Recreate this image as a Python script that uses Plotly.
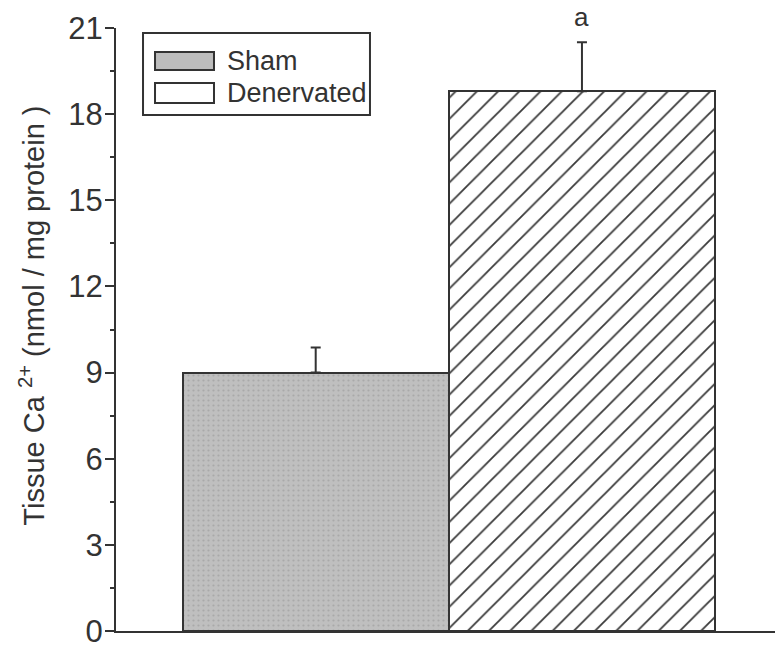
import plotly.graph_objects as go

# Tissue calcium content, mean with upper error (SEM)
groups = ["Sham", "Denervated"]
calcium = [9.0, 18.8]
calcium_err = [0.87, 1.7]
significance = ["", "a"]
y_ticks = [0, 3, 6, 9, 12, 15, 18, 21]

INK = "#333333"
FONT = "Liberation Sans, Arial, sans-serif"

fig = go.Figure()

fig.add_trace(go.Bar(
    x=[groups[0]], y=[calcium[0]], width=1,
    marker=dict(
        color="#bdbdbd",
        line=dict(color=INK, width=2),
        pattern=dict(shape=".", size=5, solidity=0.15,
                     fgcolor="#a9a9a9", bgcolor="#bfbfbf", fillmode="replace"),
    ),
    error_y=dict(type="data", symmetric=False, array=[calcium_err[0]], arrayminus=[0],
                 color=INK, thickness=2, width=5),
    showlegend=False,
))

fig.add_trace(go.Bar(
    x=[groups[1]], y=[calcium[1]], width=1,
    marker=dict(
        color="white",
        line=dict(color=INK, width=2),
        pattern=dict(shape="/", size=15, solidity=0.12,
                     fgcolor="#3a3a3a", bgcolor="white", fillmode="replace"),
    ),
    error_y=dict(type="data", symmetric=False, array=[calcium_err[1]], arrayminus=[0],
                 color=INK, thickness=2, width=5),
    showlegend=False,
))

# significance letters above the error bars
for g, v, e, s in zip(groups, calcium, calcium_err, significance):
    if s:
        fig.add_annotation(x=g, y=v + e, text=s, showarrow=False, yanchor="bottom",
                           yshift=8, font=dict(size=26, color=INK, family=FONT))

# boxed legend with wide swatches
fig.add_shape(type="rect", xref="paper", yref="paper", x0=0.041, x1=0.3854,
              y0=0.8557, y1=0.9917, line=dict(color=INK, width=2), fillcolor="white")
swatches = [("#bdbdbd", 0.9303, 0.9602), ("white", 0.8756, 0.9088)]
for (fill, y0, y1), name in zip(swatches, groups):
    fig.add_shape(type="rect", xref="paper", yref="paper", x0=0.0592, x1=0.1487,
                  y0=y0, y1=y1, line=dict(color=INK, width=2), fillcolor=fill)
    fig.add_annotation(xref="paper", yref="paper", x=0.166, y=(y0 + y1) / 2,
                       text=name, showarrow=False, xanchor="left", yanchor="middle",
                       font=dict(size=27, color=INK, family=FONT))

# rotated y-axis title
fig.add_annotation(xref="paper", yref="paper", x=-0.128, y=0.5224,
                   text="Tissue Ca <sup>2+</sup> (nmol / mg protein )", textangle=-90,
                   showarrow=False, xanchor="center", yanchor="middle",
                   font=dict(size=29, color=INK, family=FONT))

fig.update_layout(
    width=775, height=645,
    margin=dict(l=116, r=0, t=28, b=14, autoexpand=False),
    paper_bgcolor="white", plot_bgcolor="white",
    bargap=0,
    font=dict(family=FONT, color=INK),
    xaxis=dict(range=[-0.75, 1.725], showline=True, linecolor=INK, linewidth=2,
               showticklabels=False, ticks="", showgrid=False, zeroline=False,
               type="category", automargin=False),
    yaxis=dict(range=[0, 21], tickvals=y_ticks, showline=True, linecolor=INK,
               linewidth=2, ticks="outside", ticklen=9, tickwidth=2, tickcolor=INK,
               tickfont=dict(size=31, color=INK, family=FONT), showgrid=False,
               zeroline=False, ticklabelstandoff=-4, ticklabeloverflow="allow",
               automargin=False,
               minor=dict(dtick=1.5, ticks="outside", ticklen=4, tickwidth=2,
                          tickcolor=INK, showgrid=False)),
)

fig.write_html("out.html")
